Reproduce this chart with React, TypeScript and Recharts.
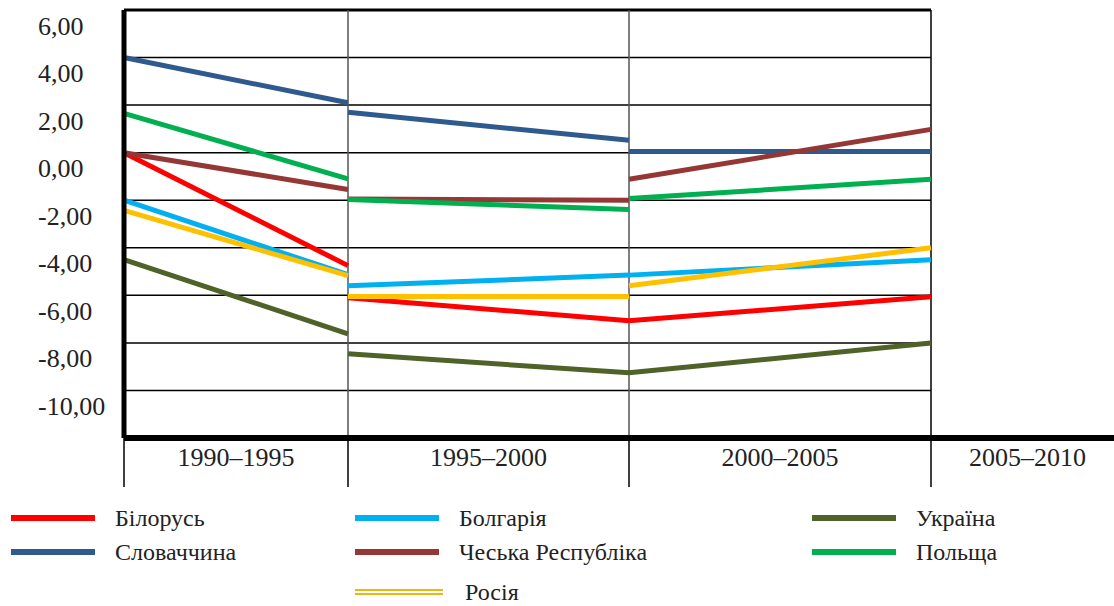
import { LineChart, Line, XAxis, YAxis, ReferenceLine } from 'recharts';

// category labels of the x axis
const periods = ['1990–1995', '1995–2000', '2000–2005', '2005–2010'];

// each series: [start, end] value for every period that has data
const belarus = [[0.0, -4.75], [-6.1, -7.07], [-7.07, -6.06]];
const slovakia = [[4.0, 2.1], [1.7, 0.52], [0.05, 0.05]];
const bulgaria = [[-2.0, -5.13], [-5.6, -5.15], [-5.15, -4.5]];
const czech = [[0.0, -1.55], [-1.95, -2.0], [-1.12, 0.98]];
const ukraine = [[-4.5, -7.62], [-8.46, -9.26], [-9.26, -8.0]];
const poland = [[1.65, -1.1], [-1.97, -2.39], [-1.93, -1.12]];
const russia = [[-2.43, -5.17], [-6.05, -6.05], [-5.6, -4.0]];

const yTicks = [-12, -10, -8, -6, -4, -2, 0, 2, 4, 6];

// layout: left edges of the period columns on the numeric x axis (the columns are not equal in the original)
const EDGES = [0, 224, 505, 807, 1000];
const MIDS = EDGES.slice(0, -1).map((e, i) => (e + EDGES[i + 1]) / 2);

const series = [
  { name: 'Словаччина', color: '#2E5A8E', values: slovakia },
  { name: 'Болгарія', color: '#00B0F0', values: bulgaria },
  { name: 'Білорусь', color: '#FF0000', values: belarus },
  { name: 'Україна', color: '#4F6228', values: ukraine },
  { name: 'Чеська Республіка', color: '#953735', values: czech },
  { name: 'Польща', color: '#00B050', values: poland },
  { name: 'Росія', color: '#FFC000', values: russia },
];

const legendItems = [
  { name: 'Білорусь', color: '#FF0000', left: 11, top: 518 },
  { name: 'Словаччина', color: '#2E5A8E', left: 11, top: 552 },
  { name: 'Болгарія', color: '#00B0F0', left: 355, top: 518 },
  { name: 'Чеська Республіка', color: '#953735', left: 355, top: 552 },
  { name: 'Росія', color: '#F0B414', left: 355, top: 592, double: true },
  { name: 'Україна', color: '#4F6228', left: 812, top: 518 },
  { name: 'Польща', color: '#00B050', left: 812, top: 552 },
];

const FONT = '"Liberation Serif", "Times New Roman", Tinos, "DejaVu Serif", serif';

const fmt = (v: number) => v.toFixed(2).replace('.', ',');

const YTick = ({ y, payload }: any) => {
  if (payload.value === -12) return <g />;
  return (
    <text x={30} y={y + 16} fontSize={26} fill="#222" dominantBaseline="central" style={{ fontFamily: FONT }}>
      {fmt(payload.value)}
    </text>
  );
};

const XTick = ({ x, y, payload }: any) => {
  const mi = MIDS.indexOf(payload.value);
  if (mi >= 0) {
    return (
      <text x={x} y={y + 19} fontSize={26} fill="#222" textAnchor="middle" dominantBaseline="central" style={{ fontFamily: FONT }}>
        {periods[mi]}
      </text>
    );
  }
  return <line x1={x} x2={x} y1={y} y2={y + 49} stroke="#000" strokeWidth={1.5} />;
};

export default function App() {
  const xTicks = [...EDGES.slice(0, 4), ...MIDS].sort((a, b) => a - b);
  return (
    <div style={{ position: 'relative', width: 1114, height: 606, overflow: 'hidden', fontFamily: FONT }}>
      <style>{'body { margin: 0; }'}</style>
      <div style={{ position: 'absolute', left: 8, top: 8 }}>
        <LineChart width={1116} height={480} margin={{ top: 2, right: 0, bottom: 0, left: 0 }}>
          <XAxis
            type="number"
            dataKey="x"
            domain={[0, 1000]}
            ticks={xTicks}
            interval={0}
            height={50}
            tickSize={0}
            tickMargin={0}
            tickLine={false}
            axisLine={{ stroke: '#000', strokeWidth: 6 }}
            tick={<XTick />}
          />
          <YAxis
            type="number"
            domain={[-12, 6]}
            ticks={yTicks}
            interval={0}
            width={116}
            tickLine={false}
            axisLine={{ stroke: '#000', strokeWidth: 5 }}
            tick={<YTick />}
          />
          {yTicks.slice(1, -1).map((v) => (
            <ReferenceLine key={v} segment={[{ x: 0, y: v }, { x: EDGES[3], y: v }]} stroke="#000" strokeWidth={1.5} />
          ))}
          <ReferenceLine segment={[{ x: 0, y: 6 }, { x: EDGES[3], y: 6 }]} stroke="#000" strokeWidth={3} />
          <ReferenceLine x={EDGES[1]} stroke="#555" strokeWidth={1.5} />
          <ReferenceLine x={EDGES[2]} stroke="#555" strokeWidth={1.5} />
          <ReferenceLine x={EDGES[3]} stroke="#000" strokeWidth={1.5} />
          {series.flatMap((s) =>
            s.values.map((seg, i) => (
              <Line
                key={s.name + i}
                data={[
                  { x: EDGES[i], v: seg[0] },
                  { x: EDGES[i + 1], v: seg[1] },
                ]}
                dataKey="v"
                stroke={s.color}
                strokeWidth={5}
                dot={false}
                activeDot={false}
                isAnimationActive={false}
                legendType="none"
              />
            ))
          )}
        </LineChart>
      </div>
      {legendItems.map((it) => (
        <div key={it.name} style={{ position: 'absolute', left: it.left, top: it.top - 12, height: 24, display: 'flex', alignItems: 'center' }}>
          {it.double ? (
            <div style={{ width: 88, height: 2, borderTop: `2px solid ${it.color}`, borderBottom: `2px solid ${it.color}` }} />
          ) : (
            <div style={{ width: 84, height: 6, background: it.color }} />
          )}
          <span style={{ marginLeft: it.double ? 22 : 20, fontSize: 24, color: '#222', lineHeight: '24px', fontFamily: FONT }}>{it.name}</span>
        </div>
      ))}
    </div>
  );
}
